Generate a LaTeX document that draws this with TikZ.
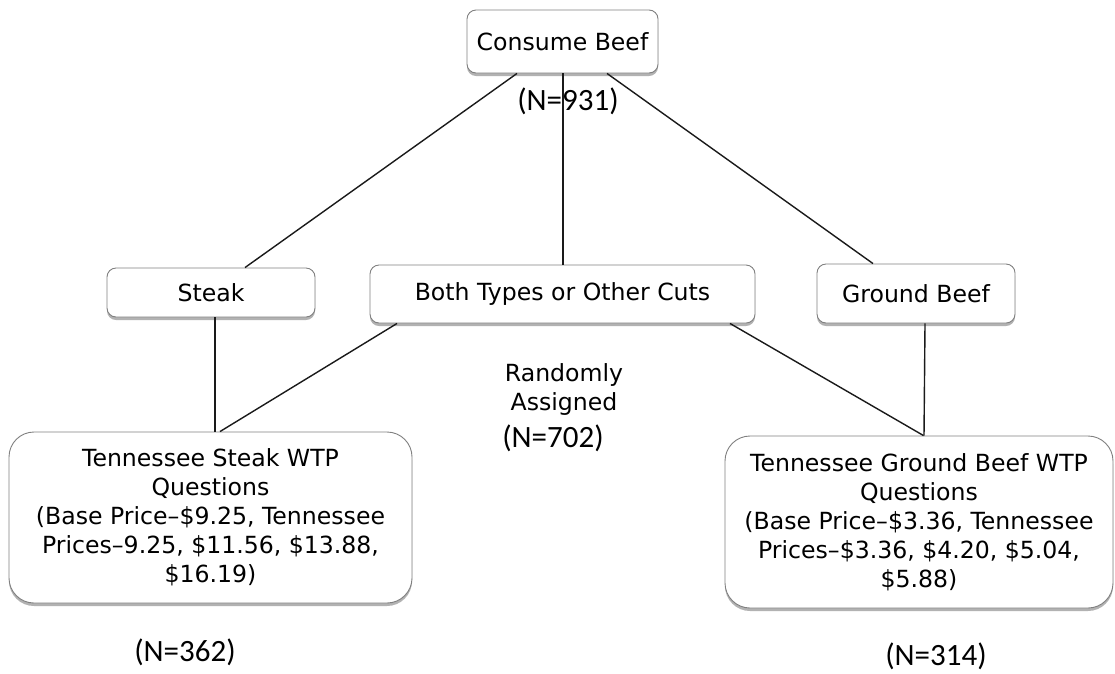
\documentclass[tikz,border=0pt]{standalone}
\usepackage{fontspec}
\usetikzlibrary{calc,shadows}
\newfontfamily\bxfontfam{DejaVu Sans}
\newfontfamily\nfontfam{Carlito}
\newcommand{\bxfont}{\bxfontfam\fontsize{23.6}{29}\selectfont}
\newcommand{\nfont}{\nfontfam\fontsize{31}{37}\selectfont}
\definecolor{boxline}{HTML}{808080}
\definecolor{conn}{HTML}{1A1A1A}
\tikzset{
  box/.style={draw=boxline, line width=0.9pt, fill=white, rounded corners=9pt,
    inner sep=0pt, align=center, font=\bxfont,
    drop shadow={shadow xshift=0pt, shadow yshift=-3pt, opacity=0.3, fill=black}},
  bigbox/.style={box, rounded corners=25pt},
  conn/.style={draw=conn, line width=1.4pt},
  plain/.style={inner sep=0pt, align=center, font=\bxfont},
  nlabel/.style={inner sep=0pt, font=\nfont}
}
\begin{document}
\begin{tikzpicture}[x=1pt,y=-1pt]
\useasboundingbox (0,0) rectangle (1115,673);
\fill[white] (0,0) rectangle (1115,673);

\node[box, minimum width=191pt, minimum height=63pt] (cb) at (562.5,41.5) {Consume Beef};
\node[box, minimum width=208pt, minimum height=49pt] (st) at (211,292.5) {Steak};
\node[box, minimum width=385pt, minimum height=58pt] (bo) at (562.5,294) {Both Types or Other Cuts};
\node[box, minimum width=198pt, minimum height=59pt] (gb) at (916,293.5) {Ground Beef};
\node[bigbox, minimum width=403pt, minimum height=171pt] (sw) at (210.5,517.5)
  {Tennessee Steak WTP\\Questions\\(Base Price–\$9.25, Tennessee\\Prices–9.25, \$11.56, \$13.88,\\\$16.19)};
\node[bigbox, minimum width=388pt, minimum height=172pt] (gw) at (919,522)
  {Tennessee Ground Beef WTP\\Questions\\(Base Price–\$3.36, Tennessee\\Prices–\$3.36, \$4.20, \$5.04,\\\$5.88)};

\node[plain] (ra) at (564,389) {Randomly\\Assigned};
\node[nlabel] (n931) at (568,101) {(N=931)};
\node[nlabel] (n702) at (553,438) {(N=702)};
\node[nlabel] (n362) at (185,652) {(N=362)};
\node[nlabel] (n314) at (936,656) {(N=314)};

\draw[conn] ($(cb.south)+(-45.5,0)$) -- ($(st.north)+(34,0)$);
\draw[conn] ($(cb.south)+(0.5,0)$) -- ($(bo.north)+(0.5,0)$);
\draw[conn] ($(cb.south)+(44.5,0)$) -- ($(gb.north)+(-43,0)$);
\draw[conn] ($(st.south)+(4,0)$) -- ($(sw.north)+(4.5,0)$);
\draw[conn] ($(bo.south)+(-165.5,0)$) -- ($(sw.north)+(9.5,0)$);
\draw[conn] ($(bo.south)+(167.5,0)$) -- ($(gw.north)+(4.5,0)$);
\draw[conn] ($(gb.south)+(9,0)$) -- ($(gw.north)+(5,0)$);
\end{tikzpicture}
\end{document}
